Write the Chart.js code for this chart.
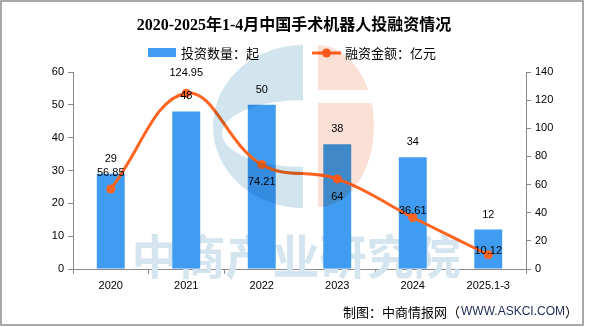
<!DOCTYPE html>
<html>
<head>
<meta charset="utf-8">
<script src="https://cdn.jsdelivr.net/npm/chart.js@4.4.1/dist/chart.umd.min.js"></script>
<style>
  html, body { margin: 0; padding: 0; background: #fff; }
  #wrap { width: 589px; height: 327px; }
</style>
</head>
<body>
<div id="wrap"><canvas id="c" width="589" height="327"></canvas></div>
<script>
// 年份 / 投资数量（起）/ 融资金额（亿元）
const years = ['2020', '2021', '2022', '2023', '2024', '2025.1-3'];
const dealCounts = [29, 48, 50, 38, 34, 12];
const fundingAmounts = [56.85, 124.95, 74.21, 64, 36.61, 10.12];

const BAR_BLUE = '#409CF0';
const LINE_ORANGE = '#FF6420';
const AXIS_GRAY = '#8a8a8a';
const NUM_FONT = '11px "Liberation Sans", Arial, sans-serif';
const CJK_FONT = '"Noto Sans CJK SC", sans-serif';

// vertical shift of each amount label relative to its point
const amountLabelShift = [-16, -20, 17, 18, -7, -4];

// background: frame, title, legend, footer, watermark
const decorPlugin = {
  id: 'decor',
  beforeDraw(chart) {
    const ctx = chart.ctx;
    ctx.save();
    ctx.fillStyle = '#fff';
    ctx.fillRect(0, 0, chart.width, chart.height);
    ctx.strokeStyle = '#8c8c8c';
    ctx.lineWidth = 1.5;
    ctx.strokeRect(1, 1, 582, 324);

    ctx.fillStyle = '#000';
    ctx.textAlign = 'center';
    ctx.textBaseline = 'middle';
    ctx.font = 'bold 16px "Liberation Serif", "Noto Sans CJK SC", serif';
    ctx.fillText('2020-2025年1-4月中国手术机器人投融资情况', 294, 26);

    // legend
    ctx.textAlign = 'left';
    ctx.font = '13px ' + CJK_FONT;
    ctx.fillStyle = BAR_BLUE;
    ctx.fillRect(148, 48, 28, 9);
    ctx.fillStyle = '#000';
    ctx.fillText('投资数量：起', 181, 53);
    ctx.strokeStyle = LINE_ORANGE;
    ctx.lineWidth = 3;
    ctx.beginPath();
    ctx.moveTo(312, 53);
    ctx.lineTo(341, 53);
    ctx.stroke();
    ctx.fillStyle = LINE_ORANGE;
    ctx.beginPath();
    ctx.arc(326.5, 53, 4.5, 0, Math.PI * 2);
    ctx.fill();
    ctx.fillStyle = '#000';
    ctx.fillText('融资金额：亿元', 345, 53);

    // footer
    ctx.textAlign = 'right';
    ctx.fillText('）', 578, 312);
    const close = ctx.measureText('）').width;
    ctx.font = '12px "Liberation Sans", Arial, sans-serif';
    ctx.fillStyle = '#1d2b55';
    ctx.fillText('WWW.ASKCI.COM', 578 - close, 312);
    const url = ctx.measureText('WWW.ASKCI.COM').width;
    ctx.font = '13px ' + CJK_FONT;
    ctx.fillStyle = '#000';
    ctx.fillText('制图：中商情报网（', 578 - close - url - 1, 312);
    ctx.restore();
  },
  beforeDatasetsDraw(chart) {
    const ctx = chart.ctx;
    ctx.save();
    ctx.fillStyle = '#d4e5ef';
    ctx.font = 'bold 47px ' + CJK_FONT;
    ctx.textAlign = 'center';
    ctx.textBaseline = 'middle';
    ctx.fillText('中商产业研究院', 296, 256);
    ctx.restore();
  },
  afterDatasetsDraw(chart) {
    const ctx = chart.ctx;
    ctx.save();
    ctx.globalCompositeOperation = 'multiply';
    // blue crescent
    ctx.fillStyle = 'rgb(210,228,238)';
    ctx.beginPath();
    ctx.ellipse(303, 126.5, 90, 81.5, 0, Math.PI / 2, Math.PI * 1.5);
    ctx.closePath();
    ctx.ellipse(303, 133.5, 81, 33.5, 0, Math.PI / 2, Math.PI * 1.5);
    ctx.closePath();
    ctx.fill('evenodd');
    // peach half disc with a gap
    ctx.fillStyle = 'rgb(251,224,213)';
    ctx.beginPath();
    ctx.rect(318, 40, 60, 50);
    ctx.rect(318, 103, 60, 110);
    ctx.clip();
    ctx.beginPath();
    ctx.ellipse(318, 126, 56, 81, 0, -Math.PI / 2, Math.PI / 2);
    ctx.closePath();
    ctx.fill();
    ctx.restore();
  }
};

// value labels above bars and beside line points
const valueLabels = {
  id: 'valueLabels',
  afterDatasetsDraw(chart) {
    const ctx = chart.ctx;
    ctx.save();
    ctx.font = NUM_FONT;
    ctx.fillStyle = '#000';
    ctx.textAlign = 'center';
    ctx.textBaseline = 'middle';
    chart.getDatasetMeta(0).data.forEach((bar, i) => {
      ctx.fillText(String(dealCounts[i]), bar.x, bar.y - 15);
    });
    chart.getDatasetMeta(1).data.forEach((pt, i) => {
      ctx.fillText(String(fundingAmounts[i]), pt.x, pt.y + amountLabelShift[i]);
    });
    ctx.restore();
  }
};

const axisStyle = {
  border: { display: true, color: AXIS_GRAY, width: 1 },
  grid: { drawOnChartArea: false, drawTicks: true, tickLength: 5, color: AXIS_GRAY },
  ticks: { color: '#000', font: { family: '"Liberation Sans", Arial, sans-serif', size: 11 } }
};

new Chart(document.getElementById('c'), {
  type: 'bar',
  data: {
    labels: years,
    datasets: [
      {
        type: 'bar',
        label: '投资数量：起',
        data: dealCounts,
        backgroundColor: BAR_BLUE,
        categoryPercentage: 1,
        barPercentage: 0.37,
        yAxisID: 'y',
        order: 1
      },
      {
        type: 'line',
        label: '融资金额：亿元',
        data: fundingAmounts,
        borderColor: LINE_ORANGE,
        backgroundColor: LINE_ORANGE,
        borderWidth: 3,
        pointRadius: 4.5,
        pointBorderWidth: 0,
        tension: 0.4,
        yAxisID: 'y1',
        order: 0
      }
    ]
  },
  options: {
    responsive: false,
    animation: false,
    devicePixelRatio: 1,
    layout: { padding: { top: 72, left: 0, right: 0, bottom: 0 } },
    plugins: {
      legend: { display: false },
      title: { display: false },
      tooltip: { enabled: false }
    },
    scales: {
      x: {
        ...axisStyle,
        offset: true,
        grid: { ...axisStyle.grid, offset: true },
        ticks: { ...axisStyle.ticks, padding: 5, maxRotation: 0 },
        afterFit(scale) { scale.height = 58; }
      },
      y: {
        ...axisStyle,
        position: 'left',
        min: 0, max: 60,
        ticks: { ...axisStyle.ticks, stepSize: 10, padding: 4 },
        afterFit(scale) { scale.width = 73; }
      },
      y1: {
        ...axisStyle,
        position: 'right',
        min: 0, max: 140,
        ticks: { ...axisStyle.ticks, stepSize: 20, padding: 4 },
        afterFit(scale) { scale.width = 63; }
      }
    }
  },
  plugins: [decorPlugin, valueLabels]
});
</script>
</body>
</html>
